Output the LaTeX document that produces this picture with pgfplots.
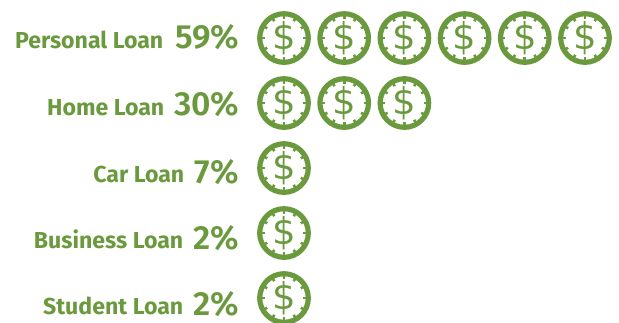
\documentclass[border=0pt]{standalone}
\usepackage{pgfplots}
\usepackage{fontspec}
\pgfplotsset{compat=1.18}
\setmainfont{Fira Sans}[BoldFont={Fira Sans Bold}]
\newfontfamily\pctfont{Fira Sans SemiBold}
\newfontfamily\dollarfont{DejaVu Sans}
\definecolor{loangreen}{RGB}{107,154,62}
\pgfdeclareplotmark{coin}{%
  \pgfsetstrokecolor{loangreen}\pgfsetfillcolor{loangreen}%
  \pgfsetlinewidth{5.2pt}\pgfsetdash{}{0pt}%
  \pgfpathcircle{\pgfpointorigin}{24.3pt}\pgfusepathqstroke
  \pgfsetlinewidth{2.6pt}%
  \foreach \a in {0,30,...,330}{%
    \pgfpathmoveto{\pgfpointpolar{\a}{22.5pt}}%
    \pgfpathlineto{\pgfpointpolar{\a}{19.4pt}}%
    \pgfusepathqstroke}%
  \pgftext[x=0pt,y=0pt]{\fontsize{37}{37}\selectfont\dollarfont\color{loangreen}\$}%
}
\pgfplotstableread{
x y
1 0
2 0
3 0
4 0
5 0
6 0
1 1
2 1
3 1
1 2
1 3
1 4
}\coins
\begin{document}
\begin{tikzpicture}[x=1pt,y=1pt]
\path[use as bounding box] (0,0) rectangle (619,322);
\begin{axis}[
  at={(0,0)}, anchor=south west,
  scale only axis, width=619pt, height=322pt,
  xmin=-3.718, xmax=6.565, ymin=-0.585, ymax=4.369,
  y dir=reverse, hide axis, clip=false]
\addplot[only marks, mark=coin] table[x=x,y=y] {\coins};
\end{axis}
\def\lab#1#2#3{\node[anchor=base east, font=\fontsize{23.1}{23}\selectfont\bfseries, text=loangreen, inner sep=0pt] at (#2,322-#3) {#1};}
\def\pct#1#2{\node[anchor=base east, font=\fontsize{33.5}{34}\selectfont\pctfont, text=loangreen, inner sep=0pt] at (239.5,322-#2) {\smash{#1}};}
\lab{Personal Loan}{163.5}{49}\pct{59\%}{49}
\lab{Home Loan}{164.5}{115}\pct{30\%}{115}
\lab{Car Loan}{184.5}{182}\pct{7\%}{183}
\lab{Business Loan}{183.5}{248}\pct{2\%}{249}
\lab{Student Loan}{183.5}{314}\pct{2\%}{315}
\end{tikzpicture}
\end{document}
